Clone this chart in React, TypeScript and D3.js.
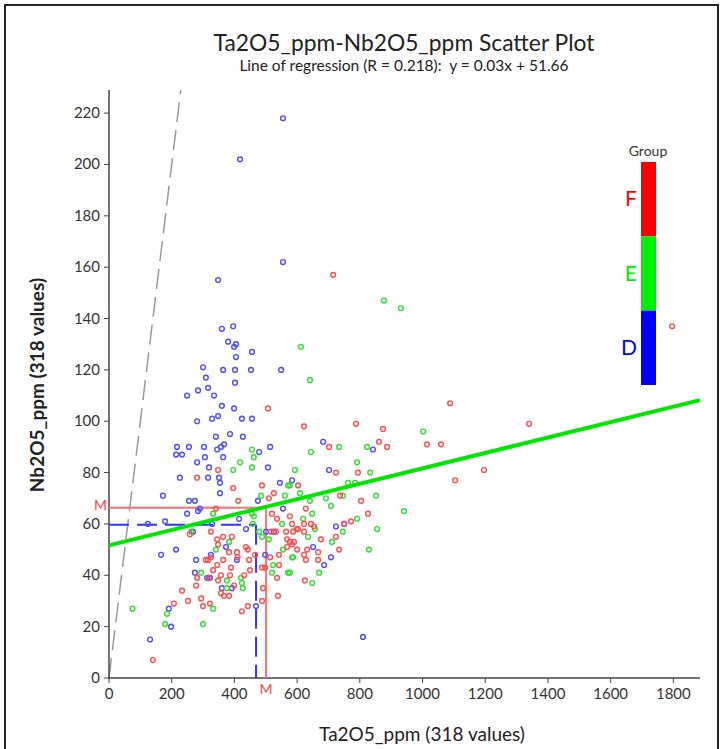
import React from 'react'
import * as d3 from 'd3'

const width = 728
const height = 749

// Ta2O5_ppm, Nb2O5_ppm per group
const groupD: [number, number][] = [
  [555, 218], [418, 202], [555, 162], [348, 155], [360, 136], [396, 137], [380, 131], [399, 129], [405, 130],
  [456, 127], [405, 125], [300, 121], [364, 120], [402, 120], [453, 120], [549, 120], [309, 117], [402, 115],
  [316, 113], [284, 112], [249, 110], [335, 110], [360, 106], [399, 105], [424, 101], [456, 101], [281, 100],
  [329, 101], [348, 102], [386, 95], [427, 94], [341, 94], [217, 90], [255, 90], [303, 90], [345, 89], [357, 90],
  [367, 91], [214, 87], [233, 87], [306, 86], [364, 86], [479, 88], [514, 90], [281, 84], [319, 82], [507, 82],
  [351, 78], [316, 78], [226, 78], [354, 76], [354, 72], [172, 71], [255, 69], [274, 69], [290, 66], [284, 65],
  [249, 64], [584, 77], [545, 76], [555, 66], [683, 92], [842, 89], [702, 81], [724, 59], [750, 60], [475, 69],
  [179, 61], [268, 57], [329, 60], [415, 62], [437, 58], [501, 57], [526, 57], [166, 48], [214, 50], [278, 46],
  [325, 48], [373, 51], [408, 46], [498, 48], [274, 41], [322, 39], [124, 60], [313, 39], [360, 35], [392, 35],
  [191, 27], [198, 20], [131, 15], [469, 28], [651, 51], [708, 47], [686, 44], [810, 16],
]

const groupE: [number, number][] = [
  [877, 147], [931, 144], [612, 129], [641, 116], [1002, 96], [734, 90], [823, 90], [644, 88], [791, 84],
  [593, 81], [833, 80], [785, 76], [762, 76], [852, 71], [746, 71], [609, 72], [692, 70], [641, 69], [708, 67],
  [648, 64], [941, 65], [791, 62], [855, 58], [619, 62], [746, 57], [657, 58], [635, 55], [577, 75], [711, 53],
  [829, 50], [587, 47], [670, 41], [648, 37], [577, 41], [396, 81], [571, 75], [485, 71], [332, 64], [456, 64],
  [459, 60], [552, 60], [479, 57], [510, 54], [383, 53], [341, 50], [555, 50], [584, 47], [523, 44], [294, 41],
  [421, 39], [488, 55], [376, 38], [424, 37], [427, 35], [376, 35], [520, 41], [571, 41], [332, 27], [300, 21],
  [185, 25], [179, 21], [456, 89], [462, 86], [418, 84], [456, 82], [561, 71], [462, 63], [262, 57], [75, 27],
]

const groupF: [number, number][] = [
  [715, 157], [507, 105], [1796, 137], [1088, 107], [622, 98], [788, 99], [874, 97], [861, 92], [887, 90],
  [702, 90], [1014, 91], [1059, 91], [1196, 81], [1104, 77], [724, 80], [794, 80], [603, 75], [737, 71],
  [804, 69], [628, 66], [826, 64], [772, 61], [750, 60], [584, 60], [622, 60], [644, 60], [654, 59], [603, 58],
  [622, 57], [587, 57], [676, 54], [724, 55], [1340, 99], [599, 58], [584, 52], [600, 50], [632, 50], [667, 49],
  [734, 50], [622, 48], [628, 46], [667, 46], [625, 38], [348, 81], [488, 75], [526, 72], [412, 69], [510, 70],
  [341, 66], [281, 78], [520, 64], [536, 62], [577, 63], [565, 57], [533, 57], [517, 57], [577, 53], [590, 53],
  [325, 57], [258, 56], [345, 54], [364, 55], [348, 52], [392, 55], [408, 49], [410, 47], [437, 51], [443, 50],
  [383, 49], [447, 46], [466, 48], [316, 46], [309, 46], [325, 47], [364, 46], [488, 43], [514, 47], [542, 48],
  [542, 44], [568, 54], [568, 51], [450, 42], [389, 43], [345, 44], [332, 42], [281, 39], [319, 39], [386, 40],
  [357, 40], [536, 39], [498, 43], [348, 38], [431, 40], [278, 36], [233, 34], [357, 33], [367, 32], [383, 32],
  [399, 36], [294, 31], [252, 30], [207, 29], [300, 28], [322, 29], [424, 26], [443, 28], [488, 30], [491, 35],
  [539, 32], [140, 7], [396, 74],
]

const groups = ['F', 'E', 'D']
const groupColors = ['#ff0000', '#00ee00', '#0000ff']
const pointColors = ['#ff4d4d', '#33dd33', '#4d4dff']

const xTicks = [0, 200, 400, 600, 800, 1000, 1200, 1400, 1600, 1800]
const yTicks = [0, 20, 40, 60, 80, 100, 120, 140, 160, 180, 200, 220]

// regression and group means (M markers)
const slope = 0.03
const intercept = 51.66
const meanF = [501, 66.3]
const meanD = [469, 59.7]

const font = 'Lato, "Open Sans", sans-serif'

export default function App() {
  const x = d3.scaleLinear().domain([0, 1885]).range([109, 700])
  const y = d3.scaleLinear().domain([0, 229]).range([678, 90])

  const regLine = d3.line<number>().x(d => x(d)).y(d => y(slope * d + intercept))
  const allPoints = [
    ...groupD.map(p => ({ p, c: pointColors[2] })),
    ...groupE.map(p => ({ p, c: pointColors[1] })),
    ...groupF.map(p => ({ p, c: pointColors[0] })),
  ]

  const legendY = d3.scaleBand().domain(groups).range([162, 385])

  return (
    <svg width={width} height={height} style={{ position: 'absolute', left: 0, top: 0, background: '#fff' }} fontFamily={font}>
      <rect x={5} y={5} width={713} height={770} fill="#fff" stroke="#222" strokeWidth={2} />

      <text x={404} y={51} textAnchor="middle" fontSize={22.8} fill="#222">Ta2O5_ppm-Nb2O5_ppm Scatter Plot</text>
      <text x={404} y={71} textAnchor="middle" fontSize={15.5} fill="#222" style={{ whiteSpace: 'pre' }}>
        {'Line of regression (R = 0.218):  y = 0.03x + 51.66'}
      </text>

      {/* 1:1 line */}
      <line x1={x(0)} y1={y(0)} x2={x(229)} y2={y(229)} stroke="#999" strokeWidth={1.5} strokeDasharray="20 8" />

      {/* axes */}
      <line x1={109} y1={y(229)} x2={109} y2={y(0)} stroke="#444" strokeWidth={1.5} />
      <line x1={109} y1={y(0)} x2={700} y2={y(0)} stroke="#444" strokeWidth={1.5} />
      {yTicks.map(t => (
        <g key={'y' + t}>
          <line x1={104} x2={109} y1={y(t)} y2={y(t)} stroke="#444" />
          <text x={100} y={y(t) + 5} textAnchor="end" fontSize={15} fill="#333">{t}</text>
        </g>
      ))}
      {xTicks.map(t => (
        <g key={'x' + t}>
          <line x1={x(t)} x2={x(t)} y1={y(0)} y2={y(0) + 5} stroke="#444" />
          <text x={x(t)} y={y(0) + 21} textAnchor="middle" fontSize={15} fill="#333">{t}</text>
        </g>
      ))}

      <text x={422} y={741} textAnchor="middle" fontSize={19} fill="#222">Ta2O5_ppm (318 values)</text>
      <text transform={`translate(44,385) rotate(-90)`} textAnchor="middle" fontSize={19} fontWeight="bold" fill="#222">Nb2O5_ppm (318 values)</text>

      {/* means */}
      <line x1={109} y1={y(meanF[1])} x2={x(meanF[0])} y2={y(meanF[1])} stroke="#ff7070" strokeWidth={2} />
      <line x1={x(meanF[0])} y1={y(meanF[1])} x2={x(meanF[0])} y2={y(0)} stroke="#ff7070" strokeWidth={2} />
      <text x={107} y={y(meanF[1]) + 2} textAnchor="end" fontSize={14} fill="#ff4444">M</text>
      <text x={x(meanF[0])} y={y(0) + 16} textAnchor="middle" fontSize={14} fill="#ff4444">M</text>
      <line x1={109} y1={y(meanD[1])} x2={x(meanD[0])} y2={y(meanD[1])} stroke="#3333ff" strokeWidth={2} strokeDasharray="20 8" />
      <line x1={x(meanD[0])} y1={y(meanD[1])} x2={x(meanD[0])} y2={y(0)} stroke="#3333ff" strokeWidth={2} strokeDasharray="20 8" />

      {/* points */}
      {allPoints.map((d, i) => (
        <circle key={i} cx={x(d.p[0])} cy={y(d.p[1])} r={2.4} fill="none" stroke={d.c} strokeWidth={1.4} />
      ))}

      {/* regression */}
      <path d={regLine([0, 1885]) ?? ''} stroke="#00e600" strokeWidth={4} fill="none" />

      {/* legend */}
      <text x={648} y={156} textAnchor="middle" fontSize={14} fill="#333">Group</text>
      {groups.map((g, i) => (
        <g key={g}>
          <rect x={641} y={legendY(g)} width={15} height={legendY.bandwidth()} fill={groupColors[i]} />
          <text x={637} y={legendY(g)! + legendY.bandwidth() / 2 + 7} textAnchor="end" fontSize={21} fill={groupColors[i]}>{g}</text>
        </g>
      ))}
    </svg>
  )
}
